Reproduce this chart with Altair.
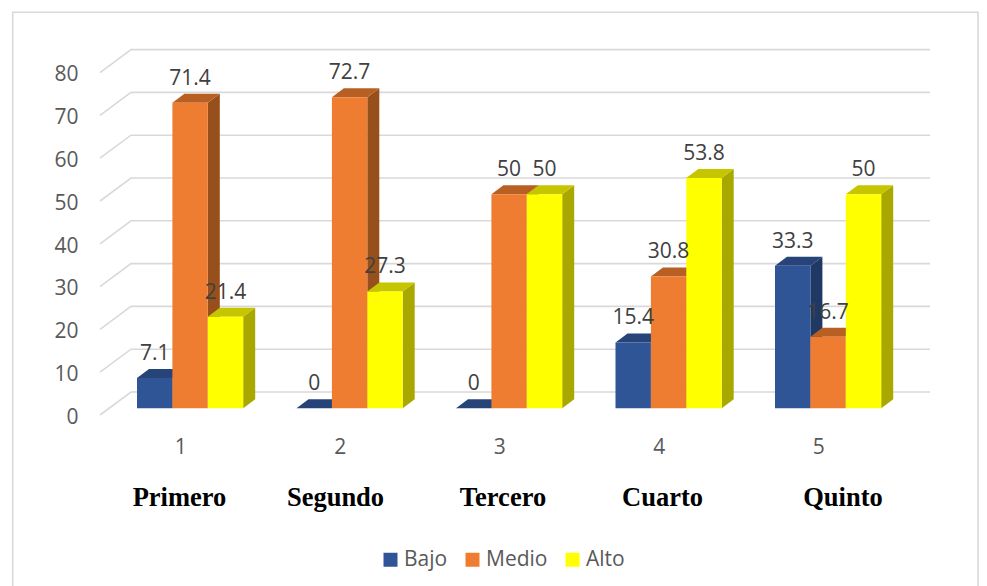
import altair as alt
import pandas as pd

# ---- data ----
grades = ["Primero", "Segundo", "Tercero", "Cuarto", "Quinto"]
groups = [1, 2, 3, 4, 5]
bajo = [7.1, 0, 0, 15.4, 33.3]
medio = [71.4, 72.7, 50, 30.8, 16.7]
alto = [21.4, 27.3, 50, 53.8, 50]
y_ticks = [0, 10, 20, 30, 40, 50, 60, 70, 80]
series = ["Bajo", "Medio", "Alto"]
front_colors = ["#2F5597", "#EF7D31", "#FFFF00"]
top_colors = ["#264478", "#B85F24", "#C6C600"]
side_colors = ["#1F3864", "#97501C", "#A8A800"]
label_nudge_px = [-1.5, -5, 3, 3, 24]

# ---- layout (window pixels converted to data units) ----
PX_PER_GROUP = 159.5
PX_PER_UNIT = 4.28
X1_PX = 181.0
Y0_PX = 408.3
def ux(px): return 1 + (px - X1_PX) / PX_PER_GROUP
def uy(px): return (Y0_PX - px) / PX_PER_UNIT

PLOT_L, PLOT_R, PLOT_T, PLOT_B = 86, 930, 49, 415
BAR_W = 35.4 / PX_PER_GROUP
BAR_START = -44.0 / PX_PER_GROUP
DX = 12.0 / PX_PER_GROUP
DY = 9.0 / PX_PER_UNIT
FRONT_SHIFT = uy(415)          # wall front edge relative to bar plane
BACK_SHIFT = uy(392)

x_scale = alt.Scale(domain=[ux(PLOT_L), ux(PLOT_R)], nice=False, zero=False)
y_scale = alt.Scale(domain=[uy(PLOT_B), uy(PLOT_T)], nice=False, zero=False)
color_scale = alt.Scale(domain=series, range=front_colors)

x_axis = alt.Axis(
    values=groups, format="d", title=None, domain=False, ticks=False, grid=False, zindex=1,
    labelFont="Open Sans", labelFontSize=21, labelColor="#595959", labelPadding=21, labelOffset=-0.7)
y_axis = alt.Axis(
    values=y_ticks, title=None, domain=False, ticks=False, grid=False, zindex=1, labelOffset=9,
    labelFont="Open Sans", labelFontSize=21, labelColor="#595959", labelPadding=8)

X = alt.X("x:Q", scale=x_scale, axis=x_axis, title=None)
Y = alt.Y("y:Q", scale=y_scale, axis=y_axis, stack=None, title=None)
YV = alt.Y("value:Q", scale=y_scale, axis=y_axis, title=None)

rows, side_rows, top_rows = [], [], []
for s_i, (name, vals) in enumerate(zip(series, [bajo, medio, alto])):
    for g, v in zip(groups, vals):
        x0 = g + BAR_START + s_i * BAR_W
        x1 = x0 + BAR_W
        rows.append(dict(series=name, group=g, value=v, x=x0, x2=x1, xc=(x0 + x1) / 2))
        side_rows += [
            dict(series=name, group=g, x=x1, y=0, y2=v),
            dict(series=name, group=g, x=x1 + DX, y=DY, y2=v + DY),
        ]
        top_rows += [
            dict(series=name, group=g, x=x0, y=v, y2=v),
            dict(series=name, group=g, x=x0 + DX, y=v, y2=v + DY),
            dict(series=name, group=g, x=x1, y=v, y2=v + DY),
            dict(series=name, group=g, x=x1 + DX, y=v + DY, y2=v + DY),
        ]
bars = pd.DataFrame(rows)
sides = pd.DataFrame(side_rows)
tops = pd.DataFrame(top_rows)

# walls: gridlines
grid_rows = []
for t in y_ticks:
    grid_rows += [
        dict(tick=t, x=ux(100), y=t + FRONT_SHIFT),
        dict(tick=t, x=ux(131), y=t + BACK_SHIFT),
        dict(tick=t, x=ux(PLOT_R), y=t + BACK_SHIFT),
    ]
GRID = "#D9D9D9"

frame = alt.Chart(pd.DataFrame([dict(x=ux(12.7), x2=ux(978), y=uy(12.3), y2=uy(600))])).mark_rect(
    filled=False, stroke=GRID, strokeWidth=1.6, clip=False
).encode(x=X, x2="x2:Q", y=alt.Y("y:Q", scale=y_scale, axis=y_axis, title=None), y2="y2:Q")

grid = alt.Chart(pd.DataFrame(grid_rows)).mark_line(color=GRID, strokeWidth=1.6).encode(
    x=X, y=Y, detail="tick:N", order=alt.Order("x:Q")
)

layers = [frame, grid]
for i, name in enumerate(series):
    layers.append(alt.Chart(sides[sides.series == name]).mark_area(color=side_colors[i], interpolate="linear").encode(
        x=X, y=Y, y2="y2:Q", detail="group:N"))
    layers.append(alt.Chart(tops[tops.series == name]).mark_area(color=top_colors[i], interpolate="linear").encode(
        x=X, y=Y, y2="y2:Q", detail="group:N"))
    layers.append(alt.Chart(bars[bars.series == name]).mark_rect().encode(
        x=X, x2="x2:Q",
        y=YV,
        y2=alt.Y2(datum=0),
        color=alt.Color("series:N", scale=color_scale, sort=series, legend=alt.Legend(
            orient="none", legendX=384 - PLOT_L - 4, legendY=549 - PLOT_T, direction="horizontal",
            title=None, symbolType="square", symbolSize=196, symbolStrokeWidth=0,
            labelFont="Open Sans", labelFontSize=21, labelColor="#595959",
            columnPadding=14, labelOffset=3, symbolOpacity=1)),
    ))

value_labels = alt.Chart(bars).mark_text(
    font="Open Sans", fontSize=21, color="#404040", dy=-24, baseline="middle", align="center"
).encode(x=alt.X("xc:Q", scale=x_scale, axis=x_axis, title=None),
         y=YV,
         text=alt.Text("value:Q"))
layers.append(value_labels)

grade_df = pd.DataFrame(dict(
    name=grades,
    x=[g + n / PX_PER_GROUP for g, n in zip(groups, label_nudge_px)],
    y=[uy(498)] * 5,
))
grade_labels = alt.Chart(grade_df).mark_text(
    font="Liberation Serif", fontSize=26.5, fontWeight="bold", color="black", baseline="middle", align="center"
).encode(x=X, y=alt.Y("y:Q", scale=y_scale, axis=y_axis, title=None), text="name:N")
layers.append(grade_labels)

chart = alt.layer(*layers).properties(
    width=PLOT_R - PLOT_L, height=PLOT_B - PLOT_T,
    padding={"left": PLOT_L - 8, "top": PLOT_T - 8, "right": 979 - PLOT_R, "bottom": 586 - PLOT_B},
    autosize=alt.AutoSizeParams(type="none"),
    background="white",
).configure_view(stroke=None)

chart.save("out.html", embed_options={"renderer": "svg", "actions": False})
